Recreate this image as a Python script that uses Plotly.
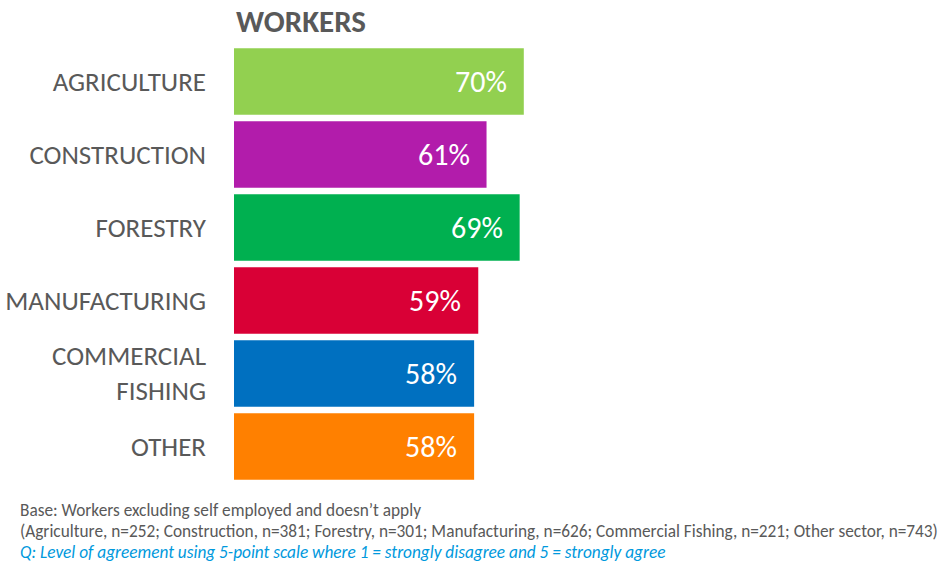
import plotly.graph_objects as go

categories = ["AGRICULTURE", "CONSTRUCTION", "FORESTRY", "MANUFACTURING", "COMMERCIAL<br>FISHING", "OTHER"]
values = [70, 61, 69, 59, 58, 58]
colors = ["#92D050", "#B21CAB", "#00B050", "#D90036", "#0070C0", "#FF8000"]
value_labels = [f"{v}%" for v in values]

FONT = "Carlito, Calibri, 'Open Sans', sans-serif"
GRAY = "#595959"

L, R, T, B = 234, 298, 45, 82
PW = 946 - L - R
PH = 565 - T - B

fig = go.Figure()
fig.add_trace(go.Bar(
    y=categories, x=values, orientation="h",
    marker=dict(color=colors, line=dict(width=0)),
    hoverinfo="skip",
))

for c, v, t in zip(categories, values, value_labels):
    fig.add_annotation(x=v, y=c, text=t, showarrow=False, xanchor="right",
                       xshift=-15, font=dict(family=FONT, size=30, color="white"))

fig.add_annotation(xref="paper", yref="paper", x=0, y=1 + (T - 21) / PH, xanchor="left",
                   yanchor="middle", text="<b>WORKERS</b>", showarrow=False,
                   font=dict(family=FONT, size=31, color=GRAY))

foot = [
    ("Base: Workers excluding self employed and doesn’t apply", GRAY, False, 510),
    ("(Agriculture, n=252; Construction, n=381; Forestry, n=301; Manufacturing, n=626; Commercial Fishing, n=221; Other sector, n=743)", GRAY, False, 531),
    ("Q: Level of agreement using 5-point scale where 1 = strongly disagree and 5 = strongly agree", "#0099DD", True, 552),
]
for txt, col, ital, ypx in foot:
    fig.add_annotation(xref="paper", yref="paper", x=(18 - L) / PW,
                       y=1 - (ypx - T) / PH,
                       xanchor="left", yanchor="middle", showarrow=False,
                       text=f"<i>{txt}</i>" if ital else txt,
                       font=dict(family=FONT, size=17.3, color=col))

fig.update_layout(
    width=946, height=565,
    margin=dict(l=L, r=R, t=T, b=B, autoexpand=False),
    paper_bgcolor="white", plot_bgcolor="white",
    bargap=0.09, showlegend=False,
    xaxis=dict(range=[0, 100], visible=False, fixedrange=True, automargin=False),
    yaxis=dict(autorange="reversed", showgrid=False, zeroline=False, showline=False,
               ticks="", ticklabelstandoff=27, automargin=False,
               tickfont=dict(family=FONT, size=27, color=GRAY)),
)

fig.write_html("out.html", config={"displayModeBar": False},
               post_script="document.body.style.margin='0';document.body.style.overflow='hidden';")
